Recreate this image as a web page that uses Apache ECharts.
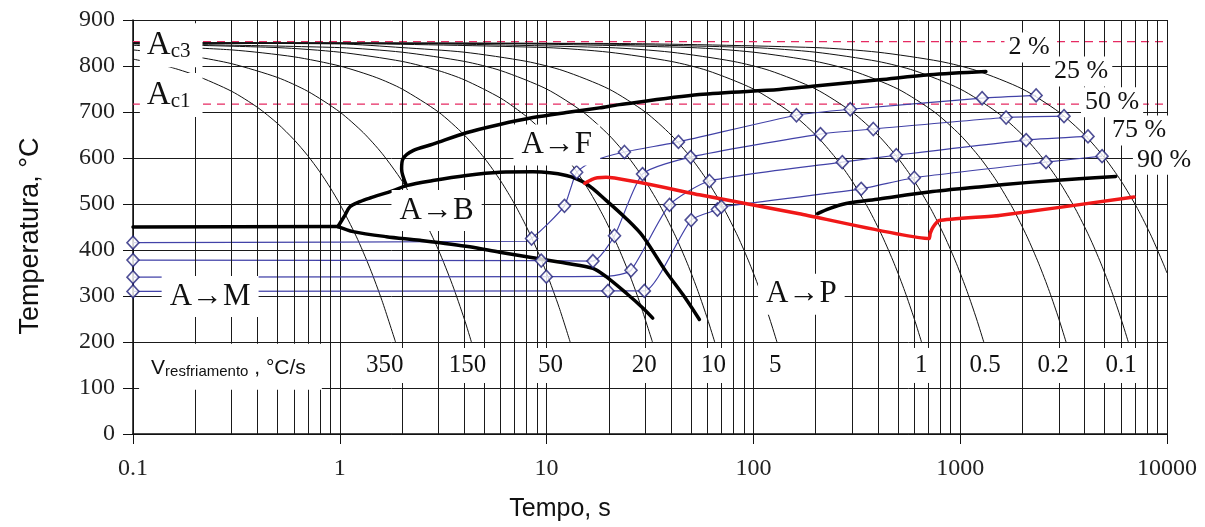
<!DOCTYPE html>
<html><head><meta charset="utf-8">
<script src="https://cdn.jsdelivr.net/npm/echarts@6/dist/echarts.min.js"></script>
<style>html,body{margin:0;padding:0;background:#fff;}#c{width:1205px;height:527px;}</style>
</head><body><div id="c"></div>
<script>
// ---------- data ----------
const xTickLabels = ['0.1','1','10','100','1000','10000'];
const yTickLabels = ['0','100','200','300','400','500','600','700','800','900'];
const minorTimes = [0.2,0.3,0.4,0.5,0.6,0.7,0.8,0.9,2,3,4,5,6,7,8,9,20,30,40,50,60,70,80,90,200,300,400,500,600,700,800,900,2000,3000,4000,5000,6000,7000,8000,9000];
const Ac3 = 853, Ac1 = 717;

// cooling curves [time s, temperature °C]
const cool350 = [[0.1,815],[0.15,798],[0.2,780],[0.3,745],[0.4,710],[0.5,675],[0.6,640],[0.7,605],[0.8,570],[0.9,535],[1.0,500],[1.2,430],[1.4,360],[1.6,290],[1.86,200]];
const cool150 = [[0.1,835],[0.2,820],[0.3,805],[0.5,775],[0.7,745],[1.0,700],[1.3,655],[1.6,610],[2.0,550],[2.5,475],[3.0,400],[3.5,325],[4.0,250],[4.33,200]];
const cool50 = [[0.1,845],[0.3,835],[0.6,820],[1,800],[1.5,775],[2,750],[3,700],[4,650],[5,600],[6,550],[7,500],[8,450],[9,400],[10,350],[11.5,275],[13,200]];
const cool20 = [[0.1,848],[0.5,840],[1,830],[2,810],[3,790],[4,770],[6,730],[8,690],[10,650],[13,590],[16,530],[19,470],[22,410],[25,350],[28,290],[32.5,200]];
const cool10 = [[0.1,849],[1,840],[2,830],[4,810],[6,790],[10,750],[15,700],[20,650],[25,600],[30,550],[36,490],[42,430],[48,370],[54,310],[60,250],[65,200]];
const cool5 = [[0.1,849.5],[1,848],[2,840],[4,830],[8,810],[12,790],[20,750],[30,700],[40,650],[50,600],[60,550],[72,490],[84,430],[96,370],[108,310],[120,250],[130,200]];
const cool1 = [[0.1,850],[1,849],[10,840],[20,830],[40,810],[60,790],[100,750],[150,700],[200,650],[250,600],[300,550],[360,490],[420,430],[480,370],[540,310],[600,250],[650,200]];
const cool05 = [[0.1,850],[2,849],[20,840],[40,830],[80,810],[120,790],[200,750],[300,700],[400,650],[500,600],[600,550],[720,490],[840,430],[960,370],[1080,310],[1200,250],[1300,200]];
const cool02 = [[0.1,850],[5,849],[50,840],[100,830],[200,810],[300,790],[500,750],[750,700],[1000,650],[1250,600],[1500,550],[1800,490],[2100,430],[2400,370],[2700,310],[3000,250],[3250,200]];
const cool01 = [[0.1,850],[10,849],[100,840],[200,830],[400,810],[600,790],[1000,750],[1500,700],[2000,650],[2500,600],[3000,550],[3600,490],[4200,430],[4800,370],[5400,310],[6000,250],[6500,200]];
const cool005 = [[0.1,850],[20,849],[200,840],[400,830],[800,810],[1200,790],[2000,750],[3000,700],[4000,650],[5000,600],[6000,550],[7200,490],[8400,430],[9600,370],[10000,350]];

// transformation boundaries
const msLine = [[0.1,450],[0.98,451]];
const bainiteStart = [[0.98,451],[1.06,476],[1.12,494],[1.25,505],[1.4,513],[1.81,529],[2.1,540],[2.82,551],[4.09,562],[5.93,569],[8.59,570],[12.45,562],[15.55,544],[19.4,508],[24.3,468],[29.2,430],[37.8,353],[45.6,303],[54.8,249]];
const ferriteStart = [[2.1,540],[1.99,576],[2.02,598],[2.26,616],[2.82,630],[4.09,655],[5.93,673],[8.59,688],[12.45,699],[18,709],[22.5,716],[54.8,738],[133.6,749],[192.8,756],[406,770],[708,781],[1331,788]];
const bainiteEnd = [[0.98,451],[1.16,440],[1.68,429],[2.44,421],[4.25,407],[5.93,395],[8.59,383],[12.45,371],[16.75,360],[19.4,342],[24.3,306],[29.2,274],[32.6,252]];
const pearliteStart = [[204.5,479],[232.8,490],[280.5,501],[406,511],[708,526],[1235,537],[2153,547],[3758,555],[5650,560]];
const redLine = [[15.3,545],[16.5,553],[17.6,557],[19.4,558],[54.8,520],[166.8,479],[708,425],[716,436],[740,450],[792,464],[1542,475],[6934,515]];

// iso-percentage lines [time, temp, diamond?]
const iso25 = [[0.1,416,1],[8.0,419,0],[8.46,425,1],[10.2,458,0],[12.2,496,1],[13.1,535,0],[13.97,569,1],[16.7,593,0],[23.8,613,1],[43.4,635,1],[161.5,693,1],[294,706,1],[1276,730,1],[2328,736,1]];
const iso50 = [[0.1,378,1],[9.42,377,1],[16.75,376,1],[21.3,431,1],[29.1,565,1],[49.7,602,1],[211,652,1],[380,663,1],[1667,688,1],[3177,691,1]];
const iso75 = [[0.1,341,1],[9.97,342,1],[20,343,0],[25.6,356,1],[39.3,498,1],[61.3,550,1],[269,591,1],[491,606,1],[2084,639,1],[4150,647,1]];
const iso90 = [[0.1,310,1],[19.8,311,1],[29.7,311,1],[50,465,1],[67,488,1],[70,494,1],[332,533,1],[600,557,1],[2600,591,1],[4853,604,1]];

// text annotations [text, time, temp]
const rateLabels = [['350',1.65,149],['150',4.15,149],['50',10.45,149],['20',29.7,149],['10',64.1,149],['5',127.6,149],['1',648,149],['0.5',1321,149],['0.2',2812,149],['0.1',5998,149]];
const pctLabels = [['2 %',2153,840],['25 %',3846,788],['50 %',5425,721],['75 %',7328,660],['90 %',9672,596]];
const zoneLabels = [['A\u2192F',11.2,628],['A\u2192B',2.94,486],['A\u2192M',0.236,299],['A\u2192P',170.6,304]];
const acLabels = [['3',0.153,845],['1',0.153,737]];
const rateTitle = ['V','resfriamento',' , \u00B0C/s',0.296,146];

// ---------- chart ----------
const serif = "'Liberation Serif','DejaVu Serif',serif";
const sans = "'Liberation Sans','DejaVu Sans',sans-serif";
const chart = echarts.init(document.getElementById('c'), null, {renderer:'canvas'});
const series = [];

series.push({type:'line', data:[[0.1,-50]], showSymbol:false, lineStyle:{opacity:0}, z:1, silent:true,
  markLine:{silent:true, symbol:['none','none'], label:{show:false}, animation:false,
    lineStyle:{color:'#1a1a1a', width:1, type:'solid'}, data:minorTimes.map(v=>({xAxis:v}))}});

[Ac3, Ac1].forEach(v=>series.push({type:'line', data:[[0.1,v],[10000,v]], showSymbol:false, z:2, silent:true,
  lineStyle:{color:'#e62a62', width:1.3, type:[8,6]}}));

[cool350,cool150,cool50,cool20,cool10,cool5,cool1,cool05,cool02,cool01,cool005].forEach(c=>series.push({
  type:'line', data:c, showSymbol:false, smooth:0.25, z:3, silent:true, lineStyle:{color:'#111', width:1}}));

[iso25,iso50,iso75,iso90].forEach(c=>series.push({
  type:'line', data:c.map(p=>[p[0],p[1]]), showSymbol:false, smooth:0.2, z:4, silent:true, lineStyle:{color:'#4242a8', width:1.2}}));

[msLine,bainiteStart,ferriteStart,bainiteEnd,pearliteStart].forEach(c=>series.push({
  type:'line', data:c, showSymbol:false, smooth:0.3, z:5, silent:true, lineStyle:{color:'#000', width:3.5, cap:'round', join:'round'}}));

series.push({type:'line', data:redLine, showSymbol:false, smooth:0.15, z:5, silent:true, lineStyle:{color:'#f01818', width:3.5, cap:'round', join:'round'}});

const diamonds = [];
[iso25,iso50,iso75,iso90].forEach(c=>c.forEach(p=>{ if(p[2]) diamonds.push([p[0],p[1]]); }));
series.push({type:'scatter', data:diamonds, symbol:'diamond', symbolSize:[12,13], z:6, silent:true, clip:false,
  itemStyle:{color:'#fff', borderColor:'#22227a', borderWidth:1.6}});

const labelData = [];
rateLabels.forEach(r=>labelData.push({value:[r[1],r[2]], label:{formatter:r[0], fontFamily:serif, fontSize:25, color:'#111', padding:[6,5,4,5]}}));
pctLabels.forEach(r=>labelData.push({value:[r[1],r[2]], label:{formatter:r[0], fontFamily:serif, fontSize:26, color:'#111', padding:[3,4,1,4]}}));
zoneLabels.forEach(r=>labelData.push({value:[r[1],r[2]], label:{formatter:r[0], fontFamily:serif, fontSize:31, color:'#111', padding:[5,8,5,8]}}));
acLabels.forEach(r=>labelData.push({value:[r[1],r[2]], label:{formatter:'{a|A}{s|c'+r[0]+'}', padding:[5,12,5,7],
  rich:{a:{fontFamily:serif, fontSize:33, color:'#111', lineHeight:34}, s:{fontFamily:serif, fontSize:21, color:'#111', verticalAlign:'bottom', lineHeight:24}}}}));
labelData.push({value:[rateTitle[3],rateTitle[4]], label:{formatter:'{v|'+rateTitle[0]+'}{s|'+rateTitle[1]+'}{v|'+rateTitle[2]+'}', padding:[12,16,10,12],
  rich:{v:{fontFamily:sans, fontSize:21, color:'#111', lineHeight:24}, s:{fontFamily:sans, fontSize:15, color:'#111', verticalAlign:'bottom', lineHeight:17}}}});
series.push({type:'scatter', data:labelData, symbol:'circle', symbolSize:0.5, itemStyle:{color:'rgba(255,255,255,0)'}, z:10, silent:true, clip:false,
  label:{show:true, position:'inside', backgroundColor:'#fff', opacity:1}, labelLayout:{hideOverlap:false}});

chart.setOption({
  animation:false,
  backgroundColor:'#fff',
  grid:{left:133, right:38, top:20, bottom:90, containLabel:false},
  xAxis:{type:'log', logBase:10, min:0.1, max:10000,
    name:'Tempo, s', nameLocation:'middle', nameGap:63,
    nameTextStyle:{fontFamily:sans, fontSize:25, color:'#111', padding:[0,180,0,0]},
    axisLine:{show:true, lineStyle:{color:'#111', width:1.5}},
    axisTick:{show:true, length:10, lineStyle:{color:'#111'}},
    axisLabel:{fontFamily:serif, fontSize:24, color:'#222', margin:23,
      formatter:(v)=>{const i=Math.round(Math.log10(v))+1; return xTickLabels[i]!==undefined?xTickLabels[i]:'';}},
    splitLine:{show:true, lineStyle:{color:'#1a1a1a', width:1}}},
  yAxis:{type:'value', min:0, max:900, interval:100,
    name:'Temperatura, \u00B0C', nameLocation:'middle', nameGap:89, nameRotate:90,
    nameTextStyle:{fontFamily:sans, fontSize:27, color:'#111', padding:[0,18,0,0]},
    axisLine:{show:true, lineStyle:{color:'#111', width:1.5}},
    axisTick:{show:true, length:10, lineStyle:{color:'#111'}},
    axisLabel:{fontFamily:serif, fontSize:24, color:'#222', margin:18,
      formatter:(v)=>{const i=Math.round(v/100); return yTickLabels[i]!==undefined?yTickLabels[i]:'';}},
    splitLine:{show:true, lineStyle:{color:'#1a1a1a', width:1}}},
  series:series
});
</script></body></html>
